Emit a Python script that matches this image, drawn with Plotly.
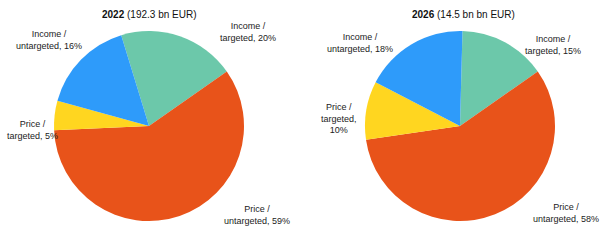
import plotly.graph_objects as go

W, H = 605, 252
categories = ["Income / targeted", "Price / untargeted", "Price / targeted", "Income / untargeted"]
values_2022 = [20, 59, 5, 16]
values_2026 = [15, 58, 10, 18]
colors = ["#6CC8AA", "#E8531A", "#FFD620", "#2E9BFA"]

titles = ["<b>2022</b> (192.3 bn EUR)", "<b>2026</b> (14.5 bn bn EUR)"]

labels_2022 = ["Income /<br>targeted, 20%", "Price /<br>untargeted, 59%",
               "Price /<br>targeted, 5%", "Income /<br>untargeted, 16%"]
labels_2026 = ["Income /<br>targeted, 15%", "Price /<br>untargeted, 58%",
               "Price /<br>targeted,<br>10%", "Income /<br>untargeted, 18%"]

# pixel centres of label blocks (layout only)
lab_pos_2022 = [(248, 32), (257, 215), (32, 130), (49, 40)]
lab_pos_2026 = [(553, 45), (566, 213), (339, 118), (360, 43)]

def px(x, y):
    return x / W, 1 - y / H

fig = go.Figure()
r = 95
for vals, (cx, cy), rot in [(values_2022, (149, 126), -17), (values_2026, (460, 126), 1.5)]:
    fig.add_trace(go.Pie(
        labels=categories, values=vals, sort=False, direction="clockwise",
        rotation=rot, marker=dict(colors=colors, line=dict(width=0)),
        textinfo="none", hoverinfo="label+percent", showlegend=False,
        domain=dict(x=[(cx - r) / W, (cx + r) / W], y=[1 - (cy + r) / H, 1 - (cy - r) / H]),
    ))

font = dict(family="Liberation Sans, Arial, sans-serif", size=9, color="#222222")
for labs, poss in [(labels_2022, lab_pos_2022), (labels_2026, lab_pos_2026)]:
    for t, (x, y) in zip(labs, poss):
        xx, yy = px(x, y)
        fig.add_annotation(x=xx, y=yy, xref="paper", yref="paper", text=t, showarrow=False,
                           font=font, align="center", xanchor="center", yanchor="middle")

for t, x in zip(titles, [149.5, 463]):
    xx, yy = px(x, 14)
    fig.add_annotation(x=xx, y=yy, xref="paper", yref="paper", text=t, showarrow=False,
                       font=dict(family="Liberation Sans, Arial, sans-serif", size=10, color="#111111"),
                       xanchor="center", yanchor="middle")

fig.update_layout(width=W, height=H, margin=dict(l=0, r=0, t=0, b=0),
                  paper_bgcolor="white", plot_bgcolor="white")
fig.write_html("out.html")
